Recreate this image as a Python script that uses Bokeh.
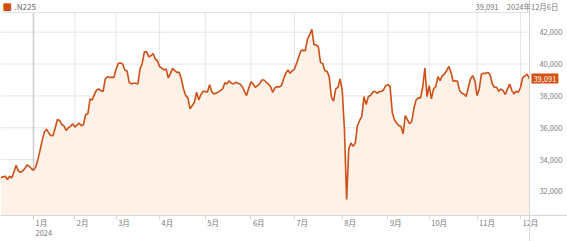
from bokeh.plotting import figure
from bokeh.models import FixedTicker, Label, Range1d, NumeralTickFormatter, LinearAxis
from bokeh.core.properties import value
from bokeh.embed import file_html
from bokeh.resources import INLINE

# Nikkei 225 daily closes, one value per trading day (Dec 11 2023 - Dec 6 2024)
values = [
    32876, 32918, 32960, 32750, 32960, 32855, 33230, 33647, 33293, 33210,
    33293, 33439, 33668, 33585, 33439, 33334, 33542, 34000, 34584, 35209,
    35730, 35917, 35667, 35500, 35521, 36000, 36521, 36459, 36209, 36125,
    35834, 36000, 36084, 36250, 36042, 36167, 36292, 36125, 36209, 36834,
    36875, 37813, 37750, 38084, 38375, 38438, 38334, 38271, 39063, 39208,
    39167, 39167, 39167, 39688, 40042, 40063, 40000, 39625, 39583, 38854,
    38750, 38792,
    38792, 38750, 39688, 40042, 40771, 40792, 40458, 40521, 40667, 40313,
    40208, 39833, 39750, 39625, 39688, 39125, 39417, 39729, 39583, 39479,
    39479, 39063, 38438, 38021, 37875, 37188, 37396, 37604, 38229, 37750,
    38083, 38292, 38271, 38250, 38708, 38250, 38125, 38188, 38250, 38333,
    38438, 38833, 38750, 38958, 38792, 38750, 38854, 38792, 38750, 38583,
    38292, 38021, 38500, 38896, 38750, 38542, 38646, 38750, 39000,
    39000, 38854, 38750, 38584, 38229, 38500, 38584, 38563, 38646, 39063,
    39417, 39625, 39417, 39583, 39688, 40042, 40458, 40833, 40875, 40833,
    41563, 41833, 42187, 41208, 41208, 41083, 40104, 40042, 39583, 39542,
    39208, 37917, 37667, 38438, 38542, 39063, 38334, 35917, 31501, 34688,
    35042, 34834, 35042, 36146, 36459, 36709, 37958, 37459, 37958, 38021,
    38229, 38292, 38167, 38271, 38292, 38375, 38646, 38709, 38584, 36979,
    36500,
    36292, 36146, 36084, 35625, 36771, 36500, 36250, 36417, 37250, 37750,
    37875, 37875, 38542, 39750, 37959, 38646, 37813, 38438, 38584, 39208,
    38958, 39271, 39375, 39583, 39854, 39479, 38917, 38958, 38917, 38334,
    38167, 38125, 37959, 38542, 39063, 39271, 38958, 38021, 38438, 39375,
    39417, 39417, 39479, 39333, 38750, 38542, 38542, 38292, 38438, 38334,
    38084, 38438, 38750, 38334, 38125, 38292, 38229, 38542, 39167, 39250,
    39375, 39091,
]
x_idx = list(range(len(values)))

# first trading day of each month (index) and labels
month_ticks = [15, 34, 53, 73, 94, 115, 135, 157, 178, 197, 219, 239]
month_labels = ["1月", "2月", "3月", "4月", "5月", "6月", "7月", "8月",
                "9月", "10月", "11月", "12月"]
year_label = "2024"
year_tick = 15
y_ticks = [32000, 34000, 36000, 38000, 40000, 42000]

series_name = ".N225"
last_value_text = "39,091"
last_date_text = "2024年12月6日"
last_value = values[-1]

FONT = "Noto Sans CJK JP"
LINE = "#cf4f14"
FILL = "#fdf1e8"
GRID = "#e6e6e6"
FS = "7.5px"

# plot-area bounds in data units (the canvas extends past them for header/labels)
X_LEFT, X_RIGHT = -0.18, 243.1
Y_BOTTOM, Y_TOP = 30493, 43237

p = figure(width=567, height=241, output_backend="svg", toolbar_location=None,
           x_range=Range1d(X_LEFT, 260.6), y_range=Range1d(28861, 43990),
           min_border=0, x_axis_type=None, y_axis_type=None)
p.background_fill_color = "white"
p.border_fill_color = "white"
p.outline_line_color = None
p.xgrid.visible = False
p.ygrid.visible = False

# grid lines, limited to the plot area
p.segment(x0=[X_LEFT] * len(y_ticks), x1=[X_RIGHT] * len(y_ticks), y0=y_ticks, y1=y_ticks,
          line_color=GRID, line_width=1)
p.segment(x0=month_ticks, x1=month_ticks, y0=[Y_BOTTOM] * len(month_ticks),
          y1=[Y_TOP] * len(month_ticks), line_color=GRID, line_width=1)
p.segment(x0=[year_tick], x1=[year_tick], y0=[Y_BOTTOM], y1=[Y_TOP],
          line_color="#cfcfcf", line_width=1.6)
p.segment(x0=[X_LEFT], x1=[X_RIGHT], y0=[Y_TOP], y1=[Y_TOP], line_color="#e2e2e2", line_width=1)

p.varea(x=x_idx, y1=[Y_BOTTOM] * len(values), y2=values, fill_color=FILL)
p.line(x_idx, values, line_color=LINE, line_width=1.6)

# x axis: tick marks at the first trading day of each month
xa = LinearAxis(fixed_location=Y_BOTTOM)
xa.ticker = FixedTicker(ticks=month_ticks)
xa.major_label_overrides = {t: "" for t in month_ticks}
xa.axis_line_color = "#d6d6d6"
xa.major_tick_line_color = "#d6d6d6"
xa.major_tick_in = 0
xa.major_tick_out = 4
xa.minor_tick_line_color = None
xa.major_label_text_font_size = "1px"
p.add_layout(xa, "below")

# month labels, left-aligned just right of each tick
p.text(x=month_ticks, y=[Y_BOTTOM] * len(month_ticks), text=month_labels,
       x_offset=2, y_offset=1.5, text_align="left", text_baseline="top",
       text_font=value(FONT), text_font_size=FS, text_color="#777777")
p.add_layout(Label(x=year_tick, y=9, x_units="data", y_units="screen", text=year_label,
                   x_offset=2, text_font=FONT, text_font_size=FS, text_color="#777777",
                   text_baseline="middle", text_align="left"))

# y axis on the right edge of the plot area
ya = LinearAxis(fixed_location=X_RIGHT)
ya.ticker = FixedTicker(ticks=y_ticks)
ya.formatter = NumeralTickFormatter(format="0,0")
ya.axis_line_color = "#d6d6d6"
ya.major_tick_line_color = None
ya.minor_tick_line_color = None
ya.major_label_text_font = FONT
ya.major_label_text_font_size = FS
ya.major_label_text_color = "#808080"
ya.major_label_standoff = 4
p.add_layout(ya, "right")

# price tag
p.add_layout(Label(x=X_RIGHT, y=last_value, x_units="data", y_units="data", text=last_value_text,
                   text_font=FONT, text_font_size=FS, text_color="white",
                   text_baseline="middle", background_fill_color="#d4500f",
                   padding=2, x_offset=2))

# header
HY = 235
p.add_layout(Label(x=2, y=HY, x_units="screen", y_units="screen", text="■",
                   text_font="DejaVu Sans", text_font_size="10px", text_color="#d44a08",
                   text_baseline="middle"))
p.add_layout(Label(x=14, y=HY, x_units="screen", y_units="screen", text=series_name,
                   text_font=FONT, text_font_size="8px", text_color="#666666",
                   text_baseline="middle"))
p.add_layout(Label(x=498, y=HY, x_units="screen", y_units="screen", text=last_value_text,
                   text_font=FONT, text_font_size=FS, text_color="#777777",
                   text_baseline="middle", text_align="right"))
p.add_layout(Label(x=558, y=HY, x_units="screen", y_units="screen", text=last_date_text,
                   text_font=FONT, text_font_size=FS, text_color="#777777",
                   text_baseline="middle", text_align="right"))

open("out.html", "w").write(file_html(p, INLINE))
